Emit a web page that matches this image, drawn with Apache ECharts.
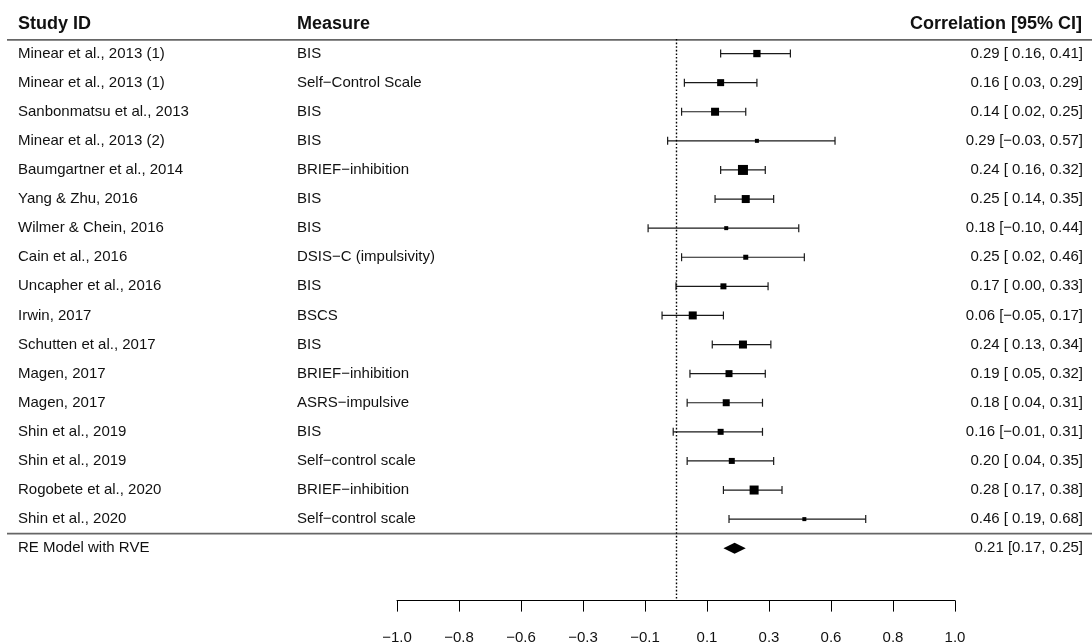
<!DOCTYPE html>
<html>
<head>
<meta charset="utf-8">
<script src="https://cdn.jsdelivr.net/npm/echarts@6/dist/echarts.min.js"></script>
<style>
html,body{margin:0;padding:0;background:#fff;}
#chart{width:1092px;height:644px;}
</style>
</head>
<body>
<div id="chart"></div>
<script>
// ---------- data ----------
const studies = [
  "Minear et al., 2013 (1)", "Minear et al., 2013 (1)", "Sanbonmatsu et al., 2013",
  "Minear et al., 2013 (2)", "Baumgartner et al., 2014", "Yang & Zhu, 2016",
  "Wilmer & Chein, 2016", "Cain et al., 2016", "Uncapher et al., 2016",
  "Irwin, 2017", "Schutten et al., 2017", "Magen, 2017", "Magen, 2017",
  "Shin et al., 2019", "Shin et al., 2019", "Rogobete et al., 2020", "Shin et al., 2020"
];
const measures = [
  "BIS", "Self\u2212Control Scale", "BIS", "BIS", "BRIEF\u2212inhibition", "BIS", "BIS",
  "DSIS\u2212C (impulsivity)", "BIS", "BSCS", "BIS", "BRIEF\u2212inhibition", "ASRS\u2212impulsive",
  "BIS", "Self\u2212control scale", "BRIEF\u2212inhibition", "Self\u2212control scale"
];
const estimates = [0.29, 0.16, 0.14, 0.29, 0.24, 0.25, 0.18, 0.25, 0.17, 0.06, 0.24, 0.19, 0.18, 0.16, 0.20, 0.28, 0.46];
const ciLower   = [0.16, 0.03, 0.02, -0.03, 0.16, 0.14, -0.10, 0.02, 0.00, -0.05, 0.13, 0.05, 0.04, -0.01, 0.04, 0.17, 0.19];
const ciUpper   = [0.41, 0.29, 0.25, 0.57, 0.32, 0.35, 0.44, 0.46, 0.33, 0.17, 0.34, 0.32, 0.31, 0.31, 0.35, 0.38, 0.68];
const weights   = [7.3, 7.0, 8.0, 4.0, 10.0, 8.0, 4.0, 5.0, 6.0, 8.0, 8.0, 7.0, 7.0, 6.0, 6.0, 9.0, 4.0];
const pooledLabel = "RE Model with RVE";
const pooled = {est: 0.21, lo: 0.17, hi: 0.25};
const headers = ["Study ID", "Measure", "Correlation [95% CI]"];
const tickValues = [-1, -0.7778, -0.5556, -0.3333, -0.1111, 0.1111, 0.3333, 0.5556, 0.7778, 1];
const tickLabels = ["\u22121.0", "\u22120.8", "\u22120.6", "\u22120.3", "\u22120.1", "0.1", "0.3", "0.6", "0.8", "1.0"];

// ---------- layout / style ----------
const FONT = '"Liberation Sans", Arial, Helvetica, sans-serif';
const BODY = 15, HEAD = 18;
const COL_STUDY = 18, COL_MEASURE = 297, COL_RIGHT = 1083;
const LINE_X0 = 7, LINE_X1 = 1092;
const TXT = '#111';
const SIZE_SCALE = 1.0;

function fmt(v, pad) {
  const s = Math.abs(v).toFixed(2);
  if (v < 0) return '\u2212' + s;
  return (pad ? ' ' : '') + s;
}
const nStudies = studies.length;
const rightTexts = estimates.map((e, i) => fmt(e) + ' [' + fmt(ciLower[i], true) + ', ' + fmt(ciUpper[i]) + ']');
const pooledText = fmt(pooled.est) + ' [' + fmt(pooled.lo) + ', ' + fmt(pooled.hi) + ']';
const pooledRow = nStudies + 1;

const chart = echarts.init(document.getElementById('chart'), null, {renderer: 'canvas'});

function textSeries(items, x, align, size, weight) {
  return {
    type: 'custom',
    silent: true,
    clip: false,
    data: items.map(it => [0, it.row]),
    encode: {x: 0, y: 1},
    renderItem: function (params, api) {
      const p = api.coord([0, api.value(1)]);
      return {
        type: 'text',
        x: x, y: p[1],
        style: {
          text: items[params.dataIndex].text,
          textAlign: align, textVerticalAlign: 'middle',
          font: weight + ' ' + size + 'px ' + FONT,
          fill: TXT
        }
      };
    }
  };
}

const studyItems = studies.map((s, i) => ({row: i + 1, text: s}));
studyItems.push({row: pooledRow, text: pooledLabel});
const measureItems = measures.map((s, i) => ({row: i + 1, text: s}));
const rightItems = rightTexts.map((s, i) => ({row: i + 1, text: s}));
rightItems.push({row: pooledRow, text: pooledText});

const option = {
  animation: false,
  backgroundColor: '#fff',
  grid: {left: 397, right: 137, top: 39, height: 561.6, containLabel: false, outerBoundsMode: 'none'},
  xAxis: {
    type: 'value', min: -1, max: 1,
    axisLine: {show: true, lineStyle: {color: '#000', width: 1}},
    axisTick: {show: true, length: 11, inside: false, customValues: tickValues, lineStyle: {color: '#000', width: 1}},
    axisLabel: {
      show: true, customValues: tickValues, margin: 30,
      fontSize: BODY, fontFamily: FONT, color: TXT,
      formatter: function (v) {
        let best = 0;
        for (let i = 0; i < tickValues.length; i++) {
          if (Math.abs(tickValues[i] - v) < Math.abs(tickValues[best] - v)) best = i;
        }
        return tickLabels[best];
      }
    },
    splitLine: {show: false}
  },
  yAxis: {type: 'value', inverse: true, min: 0.5, max: 19.8, show: false, splitLine: {show: false}},
  series: [
    // horizontal rules
    {
      type: 'custom', silent: true, clip: false,
      data: [[0, 0.53], [0, nStudies + 0.5]],
      encode: {x: 0, y: 1},
      renderItem: function (params, api) {
        const p = api.coord([0, api.value(1)]);
        return {type: 'line', shape: {x1: LINE_X0, y1: p[1], x2: LINE_X1, y2: p[1]},
                style: {stroke: '#666', lineWidth: 1.6}};
      }
    },
    // CIs + squares
    {
      type: 'custom', silent: true, clip: false,
      data: estimates.map((e, i) => [ciLower[i], ciUpper[i], e, i + 1, weights[i]]),
      encode: {x: [0, 1, 2], y: 3},
      renderItem: function (params, api) {
        const row = api.value(3);
        const lo = api.coord([api.value(0), row]);
        const hi = api.coord([api.value(1), row]);
        const mid = api.coord([api.value(2), row]);
        const s = api.value(4) * SIZE_SCALE;
        const st = {stroke: '#1a1a1a', lineWidth: 1.2};
        return {type: 'group', children: [
          {type: 'line', shape: {x1: lo[0], y1: lo[1], x2: hi[0], y2: hi[1]}, style: st},
          {type: 'line', shape: {x1: lo[0], y1: lo[1] - 4, x2: lo[0], y2: lo[1] + 4}, style: st},
          {type: 'line', shape: {x1: hi[0], y1: hi[1] - 4, x2: hi[0], y2: hi[1] + 4}, style: st},
          {type: 'rect', shape: {x: mid[0] - s / 2, y: mid[1] - s / 2, width: s, height: s}, style: {fill: '#000'}}
        ]};
      },
      markLine: {
        silent: true, symbol: 'none',
        label: {show: false},
        lineStyle: {color: '#000', width: 1.4, type: [1.6, 2]},
        data: [{xAxis: 0}]
      }
    },
    // pooled diamond
    {
      type: 'custom', silent: true, clip: false,
      data: [[pooled.lo, pooled.hi, pooled.est, pooledRow]],
      encode: {x: [0, 1, 2], y: 3},
      renderItem: function (params, api) {
        const row = api.value(3);
        const lo = api.coord([api.value(0), row]);
        const hi = api.coord([api.value(1), row]);
        const mid = api.coord([api.value(2), row]);
        return {type: 'polygon', shape: {points: [[lo[0], lo[1]], [mid[0], mid[1] - 5.5], [hi[0], hi[1]], [mid[0], mid[1] + 5.5]]},
                style: {fill: '#000'}};
      }
    },
    textSeries(studyItems, COL_STUDY, 'left', BODY, 'normal'),
    textSeries(measureItems, COL_MEASURE, 'left', BODY, 'normal'),
    textSeries(rightItems, COL_RIGHT, 'right', BODY, 'normal'),
    textSeries([{row: 0, text: headers[0]}], COL_STUDY, 'left', HEAD, 'bold'),
    textSeries([{row: 0, text: headers[1]}], COL_MEASURE, 'left', HEAD, 'bold'),
    textSeries([{row: 0, text: headers[2]}], COL_RIGHT - 1, 'right', HEAD, 'bold')
  ]
};
chart.setOption(option);
</script>
</body>
</html>
